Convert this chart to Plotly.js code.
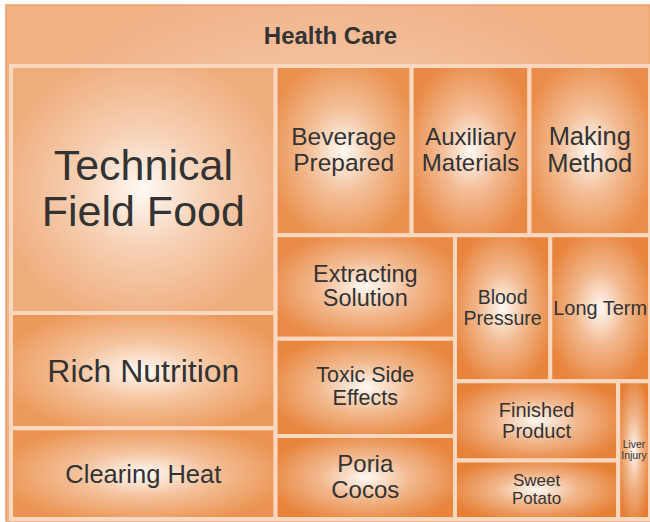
<!DOCTYPE html>
<html><head><meta charset="utf-8">
<script src="https://cdn.plot.ly/plotly-3.0.1.min.js"></script>
<style>html,body{margin:0;padding:0;background:#fff;overflow:hidden}#chart{width:650px;height:522px}</style>
</head><body><div id="chart"></div>
<script>
// ---- data ----
const rootLabel = "Health Care";
const categories = ["Technical Field Food","Rich Nutrition","Clearing Heat","Beverage Prepared","Auxiliary Materials","Making Method","Extracting Solution","Toxic Side Effects","Poria Cocos","Blood Pressure","Long Term","Finished Product","Sweet Potato","Liver Injury"];
const displayLabels = ["Technical<br>Field Food","Rich Nutrition","Clearing Heat","Beverage<br>Prepared","Auxiliary<br>Materials","Making<br>Method","Extracting<br>Solution","Toxic Side<br>Effects","Poria<br>Cocos","Blood<br>Pressure","Long Term","Finished<br>Product","Sweet<br>Potato","Liver<br>Injury"];
const values = [100, 46.7, 36.7, 35.2, 30.5, 31.2, 28.4, 26.7, 22.8, 21.3, 22.3, 19.8, 14.6, 6.7];

// ---- styles ----
const rootColor = "#f0b185";
const cellColors = ["#efac7c","#ec9a5c","#eb9452","#ea914e","#e98945","#ea8d4a","#e98a46","#e8873f","#e8843c","#e8843c","#e8843c","#e7823a","#e68035","#e57e33"];
const fontSizes = [24, 43, 32, 25.5, 24.5, 24, 25.5, 23.5, 21.5, 24, 19.5, 22, 20, 17, 13.5];

const ids = [rootLabel].concat(categories);
const rootDisplay = "<span style='font-size:6px'>&nbsp;</span><br><b>" + rootLabel + "</b>";

const trace = {
  type: "treemap",
  ids: ids,
  labels: [rootDisplay].concat(displayLabels),
  parents: [""].concat(categories.map(() => rootLabel)),
  values: [0].concat(values),
  branchvalues: "remainder",
  sort: false,
  textinfo: "label",
  textposition: "middle center",
  textfont: {family: "Liberation Sans, Arial, sans-serif", color: "#333333", size: fontSizes},
  marker: {
    colors: [rootColor].concat(cellColors),
    line: {color: ["#eea06a"].concat(categories.map(() => "#f9d8bf")), width: [1.5].concat(categories.map(() => 4))},
    pad: {t: 61, l: 5, r: 0, b: 2}
  },
  tiling: {packing: "squarify", squarifyratio: 1.618, pad: 0},
  pathbar: {visible: false},
  hoverinfo: "skip"
};

const layout = {
  width: 650, height: 522,
  margin: {l: 6, r: 0, t: 5, b: 1},
  paper_bgcolor: "#ffffff",
  showlegend: false
};

function mix(c1, c2, t) {
  const p = c => [parseInt(c.slice(1,3),16), parseInt(c.slice(3,5),16), parseInt(c.slice(5,7),16)];
  const a = p(c1), b = p(c2);
  return "rgb(" + a.map((v, i) => Math.round(v + (b[i] - v) * t)).join(",") + ")";
}

function restyleCells(gd) {
  const svg = gd.querySelector("svg.main-svg");
  let defs = svg.querySelector("defs");
  const ns = "http://www.w3.org/2000/svg";
  const allColors = [rootColor].concat(cellColors);
  gd.querySelectorAll("g.slice").forEach((sl, k) => {
    const d = sl.__data__;
    let id;
    try { id = d.data.data.id; } catch (e) {}
    if (id === undefined) { try { id = d.data.id; } catch (e) {} }
    let idx = ids.indexOf(id);
    if (idx < 0) idx = k;
    const path = sl.querySelector("path.surface");
    if (path) {
      const edge = allColors[idx] || rootColor;
      const center = idx === 0 ? mix(edge, "#ffffff", 0.55) : "#fff9f4";
      const mid = idx === 0 ? mix(edge, "#ffffff", 0.35) : mix("#fff9f4", edge, 0.55);
      const gid = "cellgrad" + idx;
      if (!defs.querySelector("#" + gid)) {
        const g = document.createElementNS(ns, "radialGradient");
        g.setAttribute("id", gid);
        g.setAttribute("cx", "0.5"); g.setAttribute("cy", "0.5"); g.setAttribute("r", "0.56");
        [[0, center], [0.45, mid], [1, edge]].forEach(s => {
          const st = document.createElementNS(ns, "stop");
          st.setAttribute("offset", s[0]);
          st.setAttribute("stop-color", s[1]);
          g.appendChild(st);
        });
        defs.appendChild(g);
      }
      path.style.fill = "url(#" + gid + ")";
    }
    if (idx > 0) {
      const lines = sl.querySelectorAll("text tspan.line");
      if (lines.length === 2) {
        lines[0].setAttribute("dy", "0.08em");
        lines[1].setAttribute("dy", "1.14em");
      }
    }
  });
}

const gd = document.getElementById("chart");
Plotly.newPlot(gd, [trace], layout, {displayModeBar: false, staticPlot: true}).then(() => restyleCells(gd));
</script>
</body></html>
